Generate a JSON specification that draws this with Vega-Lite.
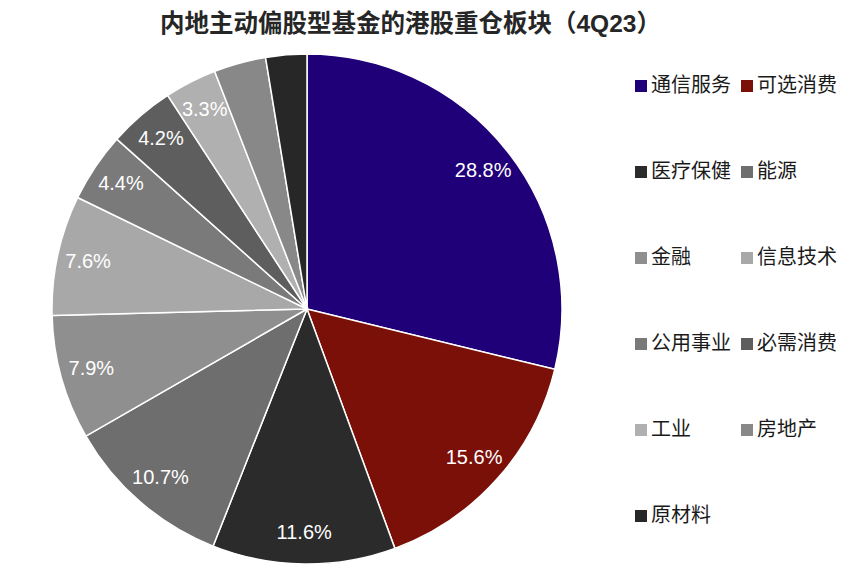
{
"$schema":"https://vega.github.io/schema/vega-lite/v6.json",
"width":508,"height":508,
"autosize":{"type":"none"},
"padding":{"left":53,"top":55,"right":299,"bottom":20},
"background":"white",
"title":{"text":"内地主动偏股型基金的港股重仓板块（4Q23）","anchor":"start","frame":"group","dx":107,"offset":14,"font":"Liberation Sans, Noto Sans CJK SC","fontSize":24.5,"fontWeight":"bold","color":"#262626"},
"data":{"values":[
{"i":1,"sector":"通信服务","value":28.8,"label":"28.8%"},
{"i":2,"sector":"可选消费","value":15.6,"label":"15.6%"},
{"i":3,"sector":"医疗保健","value":11.6,"label":"11.6%"},
{"i":4,"sector":"能源","value":10.7,"label":"10.7%"},
{"i":5,"sector":"金融","value":7.9,"label":"7.9%"},
{"i":6,"sector":"信息技术","value":7.6,"label":"7.6%"},
{"i":7,"sector":"公用事业","value":4.4,"label":"4.4%"},
{"i":8,"sector":"必需消费","value":4.2,"label":"4.2%"},
{"i":9,"sector":"工业","value":3.3,"label":"3.3%"},
{"i":10,"sector":"房地产","value":3.3,"label":""},
{"i":11,"sector":"原材料","value":2.6,"label":""}
]},
"encoding":{
"theta":{"field":"value","type":"quantitative","stack":true,"scale":{"domain":[0,100]}},
"order":{"field":"i","type":"quantitative"}
},
"layer":[
{"mark":{"type":"arc","outerRadius":255,"stroke":"white","strokeWidth":1.5},
"encoding":{"color":{"field":"sector","type":"nominal","sort":null,
"scale":{"domain":["通信服务","可选消费","医疗保健","能源","金融","信息技术","公用事业","必需消费","工业","房地产","原材料"],
"range":["#1F0078","#7B1008","#2B2B2B","#6E6E6E","#8F8F8F","#A8A8A8","#7A7A7A","#5E5E5E","#B0B0B0","#888888","#272727"]},
"legend":{"title":null,"orient":"none","direction":"horizontal","legendX":578,"legendY":21,"columns":2,"padding":0,"symbolType":"square","symbolSize":144,"symbolStrokeWidth":0,"labelFont":"Noto Sans CJK SC","labelFontSize":20,"labelColor":"#1a1a1a","labelOffset":0,"rowPadding":66,"columnPadding":6,"labelLimit":120}}}},
{"mark":{"type":"text","radius":224,"fontSize":20,"font":"Liberation Sans","color":"white"},
"encoding":{"text":{"field":"label","type":"nominal"}}}
]
}
